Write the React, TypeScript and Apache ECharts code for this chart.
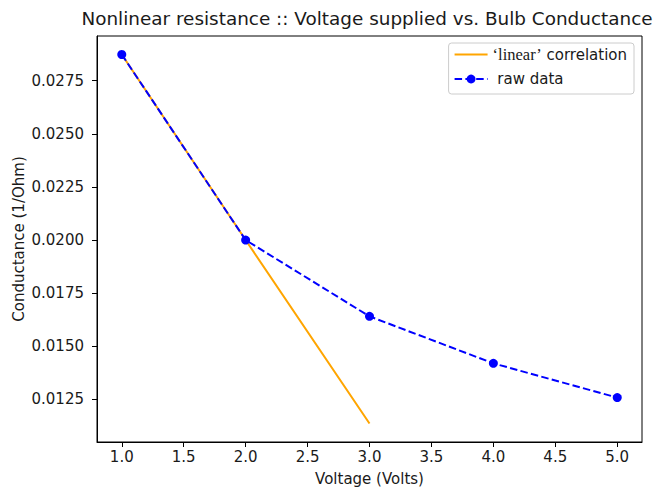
import React, { useEffect, useRef } from "react";
import * as echarts from "echarts";

const voltage = [1, 2, 3, 4, 5];
const conductance = [0.02873, 0.02, 0.01641, 0.0142, 0.01259];
const linearVoltage = [1, 2, 3];
const linearConductance = [0.02873, 0.02, 0.01137];
const xTicks = [1.0, 1.5, 2.0, 2.5, 3.0, 3.5, 4.0, 4.5, 5.0];
const yTicks = [0.0125, 0.015, 0.0175, 0.02, 0.0225, 0.025, 0.0275];

const FONT = "DejaVu Sans";
const TXT = "#1a1a1a";

export default function App() {
  const ref = useRef<HTMLDivElement>(null);
  useEffect(() => {
    if (!ref.current) return;
    const chart = echarts.init(ref.current, null, { renderer: "svg" });
    chart.setOption({
      animation: false,
      backgroundColor: "#fff",
      title: {
        text: "Nonlinear resistance :: Voltage supplied vs. Bulb Conductance",
        left: 367,
        textAlign: "center",
        top: 9,
        padding: 0,
        textStyle: { fontFamily: FONT, fontSize: 18.4, fontWeight: "normal", color: TXT },
      },
      grid: {
        left: 97,
        right: 14,
        top: 36,
        bottom: 45,
        show: true,
        borderColor: "#000",
        borderWidth: 1,
        outerBoundsMode: "none",
      },
      legend: {
        orient: "vertical",
        right: 22,
        top: 43,
        padding: [3, 7, 7, 5],
        itemGap: 8,
        itemWidth: 33,
        itemHeight: 11,
        backgroundColor: "#fff",
        borderColor: "#ccc",
        borderWidth: 1,
        borderRadius: 3,
        data: [
          { name: "linear correlation", itemStyle: { opacity: 0 } },
          { name: "raw data" },
        ],
        formatter: (name: string) =>
          name === "raw data" ? " raw data" : "{s|‘linear’} correlation",
        textStyle: {
          fontFamily: FONT,
          fontSize: 15,
          lineHeight: 16,
          color: TXT,
          rich: {
            s: { fontFamily: "Liberation Serif", fontSize: 16.5, lineHeight: 16, color: TXT },
          },
        },
      },
      xAxis: {
        type: "value",
        min: 0.8,
        max: 5.2,
        name: "Voltage (Volts)",
        nameLocation: "middle",
        nameGap: 29,
        nameTextStyle: { fontFamily: FONT, fontSize: 15, color: TXT },
        axisLine: { show: true, onZero: false, lineStyle: { color: "#000", width: 1 } },
        axisTick: { show: true, length: 5, customValues: xTicks, lineStyle: { color: "#000" } },
        axisLabel: {
          customValues: xTicks,
          margin: 7,
          fontFamily: FONT,
          fontSize: 15,
          color: TXT,
          formatter: (v: number) => v.toFixed(1),
        },
        splitLine: { show: false },
      },
      yAxis: {
        type: "value",
        min: 0.0105,
        max: 0.0296,
        name: "Conductance (1/Ohm)",
        nameLocation: "middle",
        nameGap: 71,
        nameMoveOverlap: false,
        nameTextStyle: { fontFamily: FONT, fontSize: 15, color: TXT },
        axisLine: { show: true, onZero: false, lineStyle: { color: "#000", width: 1 } },
        axisTick: { show: true, length: 5, customValues: yTicks, lineStyle: { color: "#000" } },
        axisLabel: {
          customValues: yTicks,
          margin: 13,
          fontFamily: FONT,
          fontSize: 15,
          color: TXT,
          formatter: (v: number) => v.toFixed(4),
        },
        splitLine: { show: false },
      },
      series: [
        {
          name: "linear correlation",
          type: "line",
          data: linearVoltage.map((v, i) => [v, linearConductance[i]]),
          symbol: "none",
          lineStyle: { color: "#FFA500", width: 2 },
          itemStyle: { color: "#FFA500" },
          z: 2,
        },
        {
          name: "raw data",
          type: "line",
          data: voltage.map((v, i) => [v, conductance[i]]),
          symbol: "circle",
          symbolSize: 9,
          lineStyle: { color: "#0000FF", width: 2, type: [7.5, 3.3] },
          itemStyle: { color: "#0000FF" },
          z: 3,
        },
      ],
    });
    return () => chart.dispose();
  }, []);
  return (
    <div
      ref={ref}
      style={{ position: "fixed", left: 0, top: 0, width: 656, height: 487 }}
    />
  );
}
